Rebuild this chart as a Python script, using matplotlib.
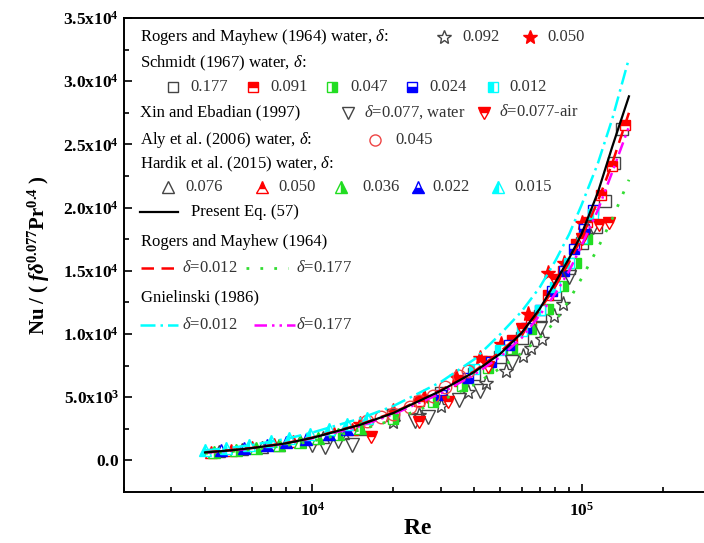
import matplotlib.pyplot as plt
from matplotlib.ticker import FixedLocator, FixedFormatter, LogLocator, NullFormatter

plt.rcParams['font.family'] = ['Liberation Serif', 'DejaVu Serif']
plt.rcParams['mathtext.fontset'] = 'custom'
plt.rcParams['mathtext.rm'] = 'Liberation Serif'
plt.rcParams['mathtext.it'] = 'Liberation Serif:italic'
plt.rcParams['mathtext.bf'] = 'Liberation Serif:bold'
plt.rcParams['mathtext.bfit'] = 'Liberation Serif:italic:bold'

# ---- data ----
# correlation curves
re_line = [4000, 5000, 6000, 8000, 10000, 15000, 20000, 30000, 40000, 50000,
           60000, 70000, 80000, 90000, 100000, 115000, 130000, 150000]
nu_present = [630, 800, 980, 1350, 1780, 2800, 3750, 5500, 7000, 8450,
              10100, 12000, 14100, 16000, 17900, 21200, 24800, 28800]
nu_rm_012 = [640, 810, 990, 1370, 1800, 2830, 3780, 5550, 7050, 8600,
             10100, 11900, 13800, 15700, 17600, 20500, 23500, 27500]
nu_rm_177 = [560, 710, 860, 1180, 1520, 2400, 3200, 4700, 6000, 7300,
             8500, 9700, 11000, 12700, 14400, 16800, 19100, 22200]
nu_gn_012 = [790, 1000, 1230, 1700, 2200, 3300, 4300, 6200, 8000, 10000,
             11800, 13700, 15800, 17900, 20200, 23500, 27000, 31800]
nu_gn_177 = [600, 770, 950, 1320, 1750, 2700, 3650, 5300, 6800, 8200,
             9700, 11500, 13200, 15000, 17000, 19800, 22800, 26400]

# Rogers and Mayhew (1964) water
re_rm092 = [20000, 25000, 30000, 38000, 44300, 52500, 60800, 65000, 71500, 79300, 85700]
nu_rm092 = [3000, 3600, 4300, 5400, 6160, 7110, 8290, 8930, 9640, 11450, 12400]
re_rm050 = [15000, 20000, 26000, 34200, 42000, 50200, 63400, 75000, 86000, 100000]
nu_rm050 = [2900, 3900, 5000, 6600, 8100, 9240, 11600, 14800, 15640, 18800]

# Schmidt (1967) water
re_s177 = [20000, 30000, 40000, 50000, 60000, 70000, 80000, 90000, 100000, 113000, 122000, 131500, 141000]
nu_s177 = [3600, 5300, 6800, 8200, 9700, 11400, 13200, 15200, 17200, 18500, 20500, 23500, 26200]
re_s091 = [25000, 35000, 45000, 55000, 65000, 75000, 85000, 95000, 105000, 118000, 130000, 145000]
nu_s091 = [4700, 6300, 7900, 9500, 11100, 13100, 15000, 17100, 18900, 21000, 23300, 26500]
re_s047 = [20000, 28000, 36000, 45000, 55000, 65000, 75000, 85000, 95000, 105000]
nu_s047 = [3300, 4600, 5900, 7300, 8800, 10400, 12000, 13800, 15600, 17500]
re_s024 = [30000, 38000, 46000, 54000, 62000, 70000, 78000, 86000, 94000, 102000, 110000]
nu_s024 = [5200, 6500, 7800, 9100, 10500, 11900, 13400, 15000, 16700, 18300, 19800]
re_s012 = [40000, 50000, 60000, 70000, 80000, 90000, 100000, 110000]
nu_s012 = [7200, 8700, 10200, 11900, 13700, 15600, 17600, 19500]

# Xin and Ebadian (1997)
re_xw = [10000, 11200, 12500, 14000, 24000, 27000, 35000, 42000, 55000, 70000, 90000, 110000]
nu_xw = [1200, 1050, 1550, 1200, 3150, 3400, 4800, 5500, 7800, 10500, 14500, 18500]
re_xa = [16500, 25000, 32000, 45000, 60000, 80000, 100000, 116000, 126000]
nu_xa = [1850, 3000, 4600, 7400, 10400, 14300, 17500, 18600, 18800]

# Aly et al. (2006) water
re_aly = [16000, 18000, 20000, 23000, 25000, 28000, 31000, 35000, 38000]
nu_aly = [3100, 3400, 3700, 4200, 4700, 5100, 5800, 6700, 7100]

# Hardik et al. (2015) water
re_h076 = [4500, 5500, 6500, 7500, 9000, 11000, 13000, 15000]
nu_h076 = [720, 900, 1080, 1250, 1500, 1850, 2150, 2500]
re_h050 = [4200, 5000, 6000, 7200, 8500, 10000, 12000, 14000]
nu_h050 = [700, 850, 1050, 1270, 1500, 1800, 2150, 2500]
re_h036 = [4300, 5200, 6200, 7500, 9000, 10500, 12500, 15000]
nu_h036 = [650, 820, 1000, 1230, 1480, 1750, 2100, 2550]
re_h022 = [4600, 5600, 6800, 8000, 9500, 11500, 13500]
nu_h022 = [800, 1000, 1230, 1450, 1720, 2100, 2450]
re_h015 = [4000, 4800, 5800, 7000, 8200, 9800, 11500, 13500, 16000]
nu_h015 = [850, 1000, 1250, 1500, 1750, 2100, 2450, 2850, 3350]

y_ticks = [0, 5000, 10000, 15000, 20000, 25000, 30000, 35000]
y_labels = [r'$\mathbf{0.0}$', r'$\mathbf{5.0x10^{3}}$', r'$\mathbf{1.0x10^{4}}$',
            r'$\mathbf{1.5x10^{4}}$', r'$\mathbf{2.0x10^{4}}$', r'$\mathbf{2.5x10^{4}}$',
            r'$\mathbf{3.0x10^{4}}$', r'$\mathbf{3.5x10^{4}}$']
x_ticks = [1e4, 1e5]
x_labels = [r'$\mathbf{10^{4}}$', r'$\mathbf{10^{5}}$']

GRAY = '#444444'
TXT = '#333333'

fig = plt.figure(figsize=(7.04, 5.43), dpi=100)
ax = fig.add_axes([124 / 704, 51 / 543, 586 / 704, 474 / 543])


def half(color, fs):
    return dict(markerfacecolor=color, markerfacecoloralt='white',
                markeredgecolor=color, fillstyle=fs)


def hollow(color):
    return dict(markerfacecolor='none', markeredgecolor=color)


# scatter series: (x, y, marker, size, style)
series = [
    (re_rm092, nu_rm092, '*', 11, hollow(GRAY)),
    (re_rm050, nu_rm050, '*', 11, dict(markerfacecolor='red', markeredgecolor='red')),
    (re_s177, nu_s177, 's', 8, hollow(GRAY)),
    (re_s091, nu_s091, 's', 7, half('red', 'top')),
    (re_s047, nu_s047, 's', 7, half('#22dd22', 'right')),
    (re_s024, nu_s024, 's', 7, half('blue', 'bottom')),
    (re_s012, nu_s012, 's', 7, half('cyan', 'left')),
    (re_xw, nu_xw, 'v', 10, hollow(GRAY)),
    (re_xa, nu_xa, 'v', 9, half('red', 'top')),
    (re_aly, nu_aly, 'o', 9, hollow('#ee4444')),
    (re_h076, nu_h076, '^', 8, hollow(GRAY)),
    (re_h050, nu_h050, '^', 8, half('red', 'top')),
    (re_h036, nu_h036, '^', 8, half('#22dd22', 'right')),
    (re_h022, nu_h022, '^', 8, half('blue', 'bottom')),
    (re_h015, nu_h015, '^', 8, half('cyan', 'left')),
]
for xs, ys, mk, ms, st in series:
    ax.plot(xs, ys, linestyle='none', marker=mk, markersize=ms, markeredgewidth=1.0, **st)

# correlation lines
ax.plot(re_line, nu_gn_012, color='cyan', lw=1.8, linestyle=(0, (6, 2, 1, 2)))
ax.plot(re_line, nu_gn_177, color='magenta', lw=1.8, linestyle=(0, (5, 2, 1, 2, 1, 2)))
ax.plot(re_line, nu_rm_012, color='red', lw=1.8, linestyle=(0, (5, 3)))
ax.plot(re_line, nu_rm_177, color='#33dd33', lw=2.0, linestyle=(0, (1, 4)))
ax.plot(re_line, nu_present, color='black', lw=1.6)

ax.set_xscale('log')
ax.set_xlim(2000, 3e5)
ax.set_ylim(-2500, 35000)

ax.yaxis.set_major_locator(FixedLocator(y_ticks))
ax.yaxis.set_major_formatter(FixedFormatter(y_labels))
ax.yaxis.set_minor_locator(FixedLocator([2500 + 5000 * i for i in range(7)]))
ax.xaxis.set_major_locator(FixedLocator(x_ticks))
ax.xaxis.set_major_formatter(FixedFormatter(x_labels))
ax.xaxis.set_minor_locator(LogLocator(base=10, subs=range(2, 10)))
ax.xaxis.set_minor_formatter(NullFormatter())

ax.tick_params(which='both', direction='in', labelsize=12.5, top=False, right=False)
ax.tick_params(which='major', length=6, width=1.2)
ax.tick_params(which='minor', length=3.5, width=1.2)
ax.tick_params(axis='x', pad=7)
for s in ax.spines.values():
    s.set_linewidth(1.4)

ax.set_xlabel(r'$\mathbf{Re}$', fontsize=17, labelpad=-1)
ax.set_ylabel(r'$\mathbf{Nu\ /\ (\ }\mathbfit{f\delta}^{\mathbf{0.077}}\mathbf{Pr}^{\mathbf{0.4}}\mathbf{\ )}$',
              fontsize=15, labelpad=8)


# ---- hand-built legend (figure pixel positions) ----
def fp(x, y):
    return x / 704, 1 - y / 543


def head(x, y, s):
    fx, fy = fp(x, y)
    fig.text(fx, fy, s, fontsize=12, color='black', va='center', ha='left')


def val(x, y, s):
    fx, fy = fp(x, y)
    fig.text(fx, fy, s, fontsize=12, color=TXT, va='center', ha='left')


def key(x, y, mk, ms, st):
    fx, fy = fp(x, y)
    ax.plot([fx], [fy], transform=fig.transFigure, clip_on=False, linestyle='none',
            marker=mk, markersize=ms, markeredgewidth=1.0, **st)


def seg(x0, x1, y, color, ls, lw=1.8):
    f0, fy = fp(x0, y)
    f1, _ = fp(x1, y)
    ax.plot([f0, f1], [fy, fy], transform=fig.transFigure, clip_on=False,
            color=color, linestyle=ls, lw=lw)


head(140, 37, r'Rogers and Mayhew (1964) water, $\delta$:')
key(444, 37, '*', 10, hollow(GRAY)); val(462, 37, '0.092')
key(530, 37, '*', 10, dict(markerfacecolor='red', markeredgecolor='red')); val(547, 37, '0.050')

head(140, 63, r'Schmidt (1967) water, $\delta$:')
key(173, 87, 's', 7, hollow(GRAY)); val(190, 87, '0.177')
key(253, 87, 's', 7, half('red', 'top')); val(270, 87, '0.091')
key(332, 87, 's', 7, half('#22dd22', 'right')); val(350, 87, '0.047')
key(412, 87, 's', 7, half('blue', 'bottom')); val(429, 87, '0.024')
key(493, 87, 's', 7, half('cyan', 'left')); val(509, 87, '0.012')

head(140, 112, 'Xin and Ebadian (1997)')
key(348, 113, 'v', 9, hollow(GRAY)); val(364, 112, r'$\delta$=0.077, water')
key(484, 113, 'v', 9, half('red', 'top')); val(499, 112, r'$\delta$=0.077-air')

head(140, 140, r'Aly et al. (2006) water, $\delta$:')
key(375, 140, 'o', 8, hollow('#ee4444')); val(395, 140, '0.045')

head(140, 164, r'Hardik et al. (2015) water, $\delta$:')
key(168, 187, '^', 8, hollow(GRAY)); val(185, 187, '0.076')
key(262, 187, '^', 8, half('red', 'top')); val(278, 187, '0.050')
key(341, 187, '^', 8, half('#22dd22', 'right')); val(362, 187, '0.036')
key(418, 187, '^', 8, half('blue', 'bottom')); val(432, 187, '0.022')
key(498, 187, '^', 8, half('cyan', 'left')); val(514, 187, '0.015')

seg(140, 178, 212, 'black', '-', 1.6); head(191, 212, 'Present Eq. (57)')

head(141, 242, 'Rogers and Mayhew (1964)')
seg(141, 176, 268, 'red', (0, (5, 3))); val(182, 268, r'$\delta$=0.012')
seg(246, 288, 268, '#33dd33', (0, (1, 4)), 2.0); val(296, 268, r'$\delta$=0.177')

head(141, 297, 'Gnielinski (1986)')
seg(140, 178, 325, 'cyan', (0, (6, 2, 1, 2))); val(182, 325, r'$\delta$=0.012')
seg(254, 295, 325, 'magenta', (0, (5, 2, 1, 2, 1, 2))); val(296, 325, r'$\delta$=0.177')

fig.savefig('out.png', dpi=100)
